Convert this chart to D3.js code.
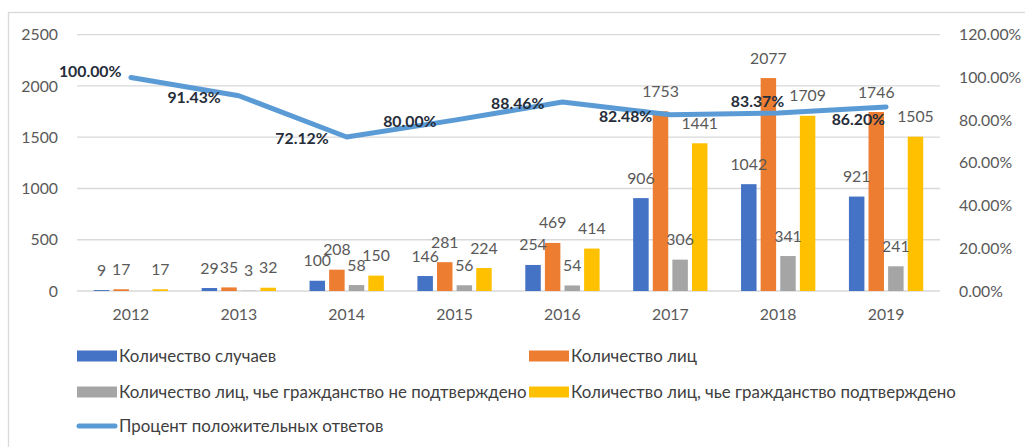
<!DOCTYPE html>
<html>
<head>
<meta charset="utf-8">
<script src="https://cdn.jsdelivr.net/npm/d3@7"></script>
<style>
  html, body { margin: 0; padding: 0; background: #fff; }
  svg { display: block; }
</style>
</head>
<body>
<div id="chart"></div>
<script>
// données
var years = ["2012", "2013", "2014", "2015", "2016", "2017", "2018", "2019"];
var cases = [9, 29, 100, 146, 254, 906, 1042, 921];
var persons = [17, 35, 208, 281, 469, 1753, 2077, 1746];
var notConfirmed = [null, 3, 58, 56, 54, 306, 341, 241];
var confirmed = [17, 32, 150, 224, 414, 1441, 1709, 1505];
var percent = [100.00, 91.43, 72.12, 80.00, 88.46, 82.48, 83.37, 86.20];
var leftTicks = [0, 500, 1000, 1500, 2000, 2500];
var rightTicks = [0, 20, 40, 60, 80, 100, 120];

var seriesNames = ["Количество случаев", "Количество лиц",
    "Количество лиц, чье гражданство не подтверждено", "Количество лиц, чье гражданство подтверждено"];
var seriesColors = ["#4472C4", "#ED7D31", "#A5A5A5", "#FFC000"];
var lineName = "Процент положительных ответов";
var lineColor = "#5B9BD5";

var W = 1025, H = 447;
var plot = {left: 77, right: 940, top: 34.7, bottom: 291};
var font = "Lato, 'Open Sans', sans-serif";
var fs = 15.8;

var series = [cases, persons, notConfirmed, confirmed];

var svg = d3.select("#chart").append("svg")
    .attr("width", W).attr("height", H);

// cadre
svg.append("rect")
    .attr("x", 8.5).attr("y", 12.5)
    .attr("width", W + 20).attr("height", H + 20)
    .attr("fill", "none").attr("stroke", "#D9D9D9").attr("stroke-width", 1.3);

var x = d3.scaleBand().domain(years).range([plot.left, plot.right]).padding(0);
var inner = d3.scaleBand().domain(d3.range(4)).range([0, 78.4])
    .paddingInner(0.21).paddingOuter(0.105);
var y = d3.scaleLinear().domain([0, 2500]).range([plot.bottom, plot.top]);
var y2 = d3.scaleLinear().domain([0, 120]).range([plot.bottom, plot.top]);

// grille
svg.append("g").selectAll("line").data(leftTicks).enter().append("line")
    .attr("x1", plot.left).attr("x2", plot.right)
    .attr("y1", d => y(d)).attr("y2", d => y(d))
    .attr("stroke", "#D9D9D9").attr("stroke-width", 1.3);

// axe gauche
var axL = svg.append("g").attr("transform", "translate(58,0)")
    .call(d3.axisLeft(y).tickValues(leftTicks).tickSize(0).tickPadding(0).tickFormat(d3.format("d")));
axL.select(".domain").remove();
axL.selectAll("text").attr("font-family", font).attr("font-size", fs).attr("fill", "#595959");

// axe droit
var axR = svg.append("g").attr("transform", "translate(959,0)")
    .call(d3.axisRight(y2).tickValues(rightTicks).tickSize(0).tickPadding(0)
        .tickFormat(d => d.toFixed(2) + "%"));
axR.select(".domain").remove();
axR.selectAll("text").attr("font-family", font).attr("font-size", fs).attr("fill", "#595959");

// axe des catégories
var axB = svg.append("g").attr("transform", "translate(0," + (plot.bottom + 13) + ")")
    .call(d3.axisBottom(x).tickSize(0).tickPadding(5));
axB.select(".domain").remove();
axB.selectAll("text").attr("font-family", font).attr("font-size", fs).attr("fill", "#595959");

// barres
var flat = [];
years.forEach((yr, i) => {
    series.forEach((s, k) => {
        if (s[i] !== null) flat.push({year: yr, k: k, v: s[i]});
    });
});

var barX = d => x(d.year) + x.bandwidth() / 2 - 39.2 + inner(d.k);

svg.append("g").selectAll("rect").data(flat).enter().append("rect")
    .attr("x", barX)
    .attr("y", d => y(d.v))
    .attr("width", inner.bandwidth())
    .attr("height", d => y(0) - y(d.v))
    .attr("fill", d => seriesColors[d.k]);

// ligne des pourcentages
var line = d3.line()
    .x((d, i) => x(years[i]) + x.bandwidth() / 2)
    .y(d => y2(d));

svg.append("path").datum(percent)
    .attr("d", line)
    .attr("fill", "none")
    .attr("stroke", lineColor)
    .attr("stroke-width", 5)
    .attr("stroke-linecap", "round")
    .attr("stroke-linejoin", "round");

// étiquettes des barres
svg.append("g").selectAll("text").data(flat).enter().append("text")
    .attr("x", d => barX(d) + inner.bandwidth() / 2)
    .attr("y", d => y(d.v) - 20)
    .attr("dy", "0.35em")
    .attr("text-anchor", "middle")
    .attr("font-family", font).attr("font-size", fs).attr("fill", "#595959")
    .text(d => d.v);

// étiquettes des pourcentages (déplacées à la main comme dans l'original)
var nudge = {"2012": [8.5, -7.5], "2018": [24, -12.5], "2019": [17, 11.5]};
svg.append("g").selectAll("text").data(percent).enter().append("text")
    .attr("x", (d, i) => x(years[i]) + x.bandwidth() / 2 - 18 + (nudge[years[i]] ? nudge[years[i]][0] : 0))
    .attr("y", (d, i) => y2(d) + 1.5 + (nudge[years[i]] ? nudge[years[i]][1] : 0))
    .attr("dy", "0.35em")
    .attr("text-anchor", "end")
    .attr("font-family", font).attr("font-size", fs).attr("font-weight", "bold")
    .attr("fill", "#262D3A")
    .text(d => d.toFixed(2) + "%");

// légende
var legItems = seriesNames.map((n, k) => ({name: n, color: seriesColors[k], type: "bar"}));
legItems.push({name: lineName, color: lineColor, type: "line"});
var legPos = [[77, 356], [529, 356], [77, 392], [529, 392], [77, 426]];

var leg = svg.append("g").selectAll("g").data(legItems).enter().append("g")
    .attr("transform", (d, i) => "translate(" + legPos[i][0] + "," + legPos[i][1] + ")");

leg.filter(d => d.type === "bar").append("rect")
    .attr("x", 0).attr("y", -5.5).attr("width", 40).attr("height", 11)
    .attr("fill", d => d.color);
leg.filter(d => d.type === "line").append("line")
    .attr("x1", 2).attr("x2", 38).attr("y1", 0).attr("y2", 0)
    .attr("stroke", d => d.color).attr("stroke-width", 5).attr("stroke-linecap", "round");

leg.append("text")
    .attr("x", 42).attr("y", 0).attr("dy", "0.35em")
    .attr("font-family", font).attr("font-size", 16.9).attr("fill", "#404040")
    .text(d => d.name);
</script>
</body>
</html>
